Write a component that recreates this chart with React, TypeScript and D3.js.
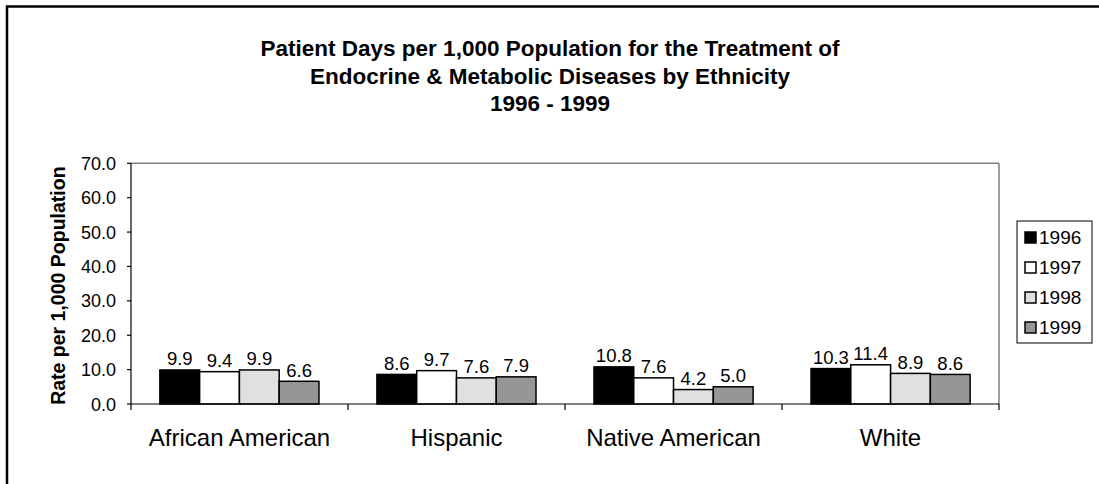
import * as d3 from "d3";

const categories = ["African American", "Hispanic", "Native American", "White"];
const years = ["1996", "1997", "1998", "1999"];
const values1996 = [9.9, 8.6, 10.8, 10.3];
const values1997 = [9.4, 9.7, 7.6, 11.4];
const values1998 = [9.9, 7.6, 4.2, 8.9];
const values1999 = [6.6, 7.9, 5.0, 8.6];
const yTicks = [0, 10, 20, 30, 40, 50, 60, 70];
const titleLines = [
  "Patient Days per 1,000 Population for the Treatment of",
  "Endocrine & Metabolic Diseases by Ethnicity",
  "1996 - 1999",
];

const seriesValues = [values1996, values1997, values1998, values1999];
const fills = ["#000000", "#ffffff", "#e0e0e0", "#969696"];

const W = 1099;
const H = 484;
const plot = { left: 131, right: 999, top: 163.3, bottom: 404 };
const font = "Arial, 'Liberation Sans', sans-serif";

const App = () => {
  const x = d3.scaleBand<string>().domain(categories).range([plot.left, plot.right]).paddingInner(0.267).paddingOuter(0.133);
  const xInner = d3.scaleBand<string>().domain(years).range([0, x.bandwidth()]);
  const y = d3.scaleLinear().domain([0, 70]).range([plot.bottom, plot.top]);
  const cat = d3.scaleBand<string>().domain(categories).range([plot.left, plot.right]);

  return (
    <svg
      width={W}
      height={H}
      style={{ position: "absolute", left: 0, top: 0, display: "block", background: "#fff" }}
      fontFamily={font}
    >
      <rect x={7} y={6.5} width={1200} height={600} fill="#fff" stroke="#000" strokeWidth={2.5} />

      {titleLines.map((t, i) => (
        <text key={t} x={550} y={56 + i * 27.5} textAnchor="middle" fontSize={22.5} fontWeight="bold" fill="#000">
          {t}
        </text>
      ))}

      {/* plot frame */}
      <line x1={plot.left} x2={plot.right} y1={plot.top} y2={plot.top} stroke="#808080" strokeWidth={1.5} />
      <line x1={plot.right} x2={plot.right} y1={plot.top} y2={plot.bottom} stroke="#808080" strokeWidth={1.5} />

      {/* bars */}
      {categories.map((c, ci) => (
        <g key={c} transform={`translate(${x(c)},0)`}>
          {years.map((yr, si) => {
            const v = seriesValues[si][ci];
            const bx = xInner(yr) as number;
            return (
              <g key={yr}>
                <rect
                  x={bx}
                  y={y(v)}
                  width={xInner.bandwidth()}
                  height={y(0) - y(v)}
                  fill={fills[si]}
                  stroke="#000"
                  strokeWidth={1.5}
                />
                <text x={bx + xInner.bandwidth() / 2} y={y(v) - 4.5} textAnchor="middle" fontSize={18.5} fill="#000">
                  {v.toFixed(1)}
                </text>
              </g>
            );
          })}
        </g>
      ))}

      {/* y axis */}
      <line x1={plot.left} x2={plot.left} y1={plot.top} y2={plot.bottom} stroke="#000" strokeWidth={1.2} />
      {yTicks.map((t) => (
        <g key={t}>
          <line x1={plot.left - 4} x2={plot.left} y1={y(t)} y2={y(t)} stroke="#000" strokeWidth={1.2} />
          <text x={plot.left - 15} y={y(t) + 6.5} textAnchor="end" fontSize={18} fill="#000">
            {t.toFixed(1)}
          </text>
        </g>
      ))}

      {/* x axis */}
      <line x1={plot.left} x2={plot.right} y1={plot.bottom} y2={plot.bottom} stroke="#000" strokeWidth={1.2} />
      {[...categories.map((c) => cat(c) as number), plot.right].map((tx, i) => (
        <line key={i} x1={tx} x2={tx} y1={plot.bottom} y2={plot.bottom + 6} stroke="#000" strokeWidth={1.2} />
      ))}
      {categories.map((c) => (
        <text key={c} x={(cat(c) as number) + cat.bandwidth() / 2} y={446} textAnchor="middle" fontSize={24} fill="#000">
          {c}
        </text>
      ))}

      <text
        transform={`translate(65,${(plot.top + plot.bottom) / 2 + 2}) rotate(-90)`}
        textAnchor="middle"
        fontSize={19.5}
        fontWeight="bold"
        fill="#000"
      >
        Rate per 1,000 Population
      </text>

      {/* legend */}
      <rect x={1017} y={221} width={75} height={122} fill="#fff" stroke="#000" strokeWidth={1} />
      {years.map((yr, i) => (
        <g key={yr} transform={`translate(1025,${237.5 + i * 30})`}>
          <rect x={0} y={-5.5} width={11} height={11} fill={fills[i]} stroke="#000" strokeWidth={1.5} />
          <text x={14} y={6.5} fontSize={19} fill="#000">
            {yr}
          </text>
        </g>
      ))}
    </svg>
  );
};

export default App;
